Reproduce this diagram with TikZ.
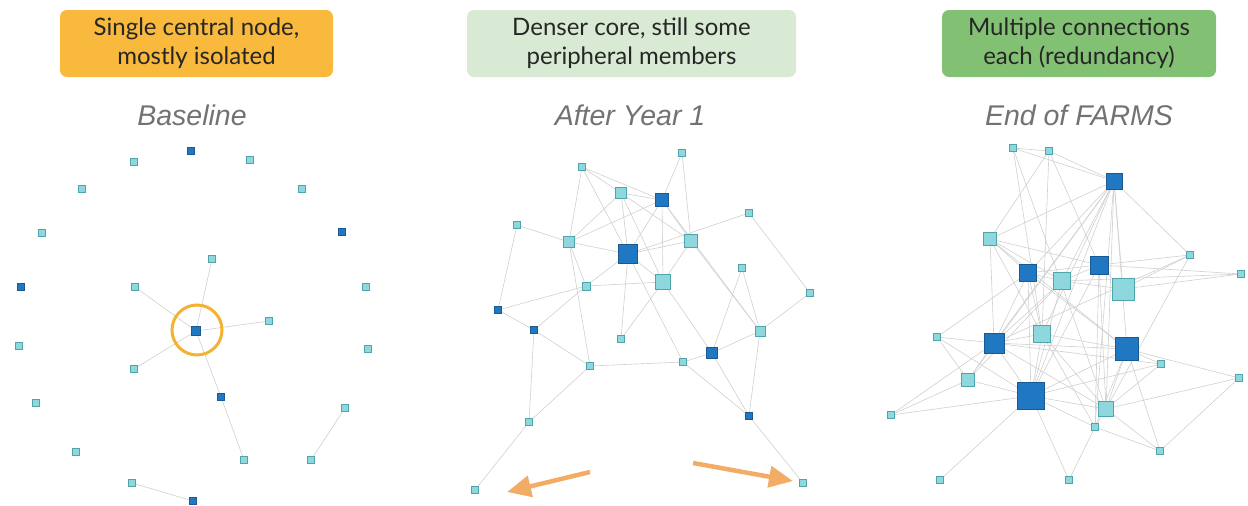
\documentclass[tikz,border=0pt]{standalone}
\usepackage{fontspec}
\setmainfont{Lato}
\newfontfamily\titlefont{Liberation Sans}
\usetikzlibrary{arrows.meta,backgrounds}
\definecolor{ltfill}{HTML}{8ED8DD}
\definecolor{ltdraw}{HTML}{4FA5AC}
\definecolor{dkfill}{HTML}{1F78C1}
\definecolor{dkdraw}{HTML}{1A5A90}
\definecolor{edgec}{HTML}{D0D0D0}
\definecolor{boxA}{HTML}{F8B93D}
\definecolor{boxB}{HTML}{D8EAD3}
\definecolor{boxC}{HTML}{82C174}
\definecolor{ringc}{HTML}{F4B233}
\definecolor{arrc}{HTML}{F2AC66}
\definecolor{titlec}{HTML}{727272}
\definecolor{hdrtext}{HTML}{262626}
\tikzset{
  nd/.style={rectangle,inner sep=0pt,line width=0.8pt},
  lt/.style={nd,fill=ltfill,draw=ltdraw},
  dk/.style={nd,fill=dkfill,draw=dkdraw},
  sz/.style={minimum size=#1},
  edge/.style={draw=edgec,line width=0.6pt},
  hdr/.style={rounded corners=7pt,minimum width=#1,minimum height=67pt,text=hdrtext,align=center,font=\fontsize{24}{29}\selectfont},
  ttl/.style={anchor=base,text=titlec,font=\titlefont\itshape\fontsize{28.5}{30}\selectfont},
  farrow/.style={draw=arrc,line width=4.5pt,-{Triangle[length=24pt,width=21pt]}}
}
\begin{document}
\begin{tikzpicture}[x=1pt,y=-1pt]
\useasboundingbox (0,0) rectangle (1248,506);
% headers
\node[hdr=273pt,fill=boxA] (h1) at (196.5,43.5) {Single central node,\\mostly isolated};
\node[hdr=329pt,fill=boxB] (h2) at (631.5,43.5) {Denser core, still some\\peripheral members};
\node[hdr=274pt,fill=boxC] (h3) at (1079,43.5) {Multiple connections\\each (redundancy)};
\node[ttl] (t1) at (192,125) {Baseline};
\node[ttl] (t2) at (630,125) {After Year 1};
\node[ttl] (t3) at (1079,125) {End of FARMS};
% ---------- panel 1
\node[dk,sz=7pt] (b1) at (191,151) {};
\node[lt,sz=7pt] (b2) at (134,162) {};
\node[lt,sz=7pt] (b3) at (250,160) {};
\node[lt,sz=7pt] (b4) at (82,189) {};
\node[lt,sz=7pt] (b5) at (302,189) {};
\node[lt,sz=7pt] (b6) at (42,233) {};
\node[dk,sz=7pt] (b7) at (342,232) {};
\node[dk,sz=7pt] (b8) at (21,287) {};
\node[lt,sz=7pt] (b9) at (135,287) {};
\node[lt,sz=7pt] (b10) at (212,259) {};
\node[lt,sz=7pt] (b11) at (366,287) {};
\node[dk,sz=9pt] (b0) at (196,331) {};
\node[lt,sz=7pt] (b12) at (269,321) {};
\node[lt,sz=7pt] (b13) at (19,346) {};
\node[lt,sz=7pt] (b14) at (368,349) {};
\node[lt,sz=7pt] (b15) at (134,369) {};
\node[dk,sz=7pt] (b16) at (221,397) {};
\node[lt,sz=7pt] (b17) at (36,403) {};
\node[lt,sz=7pt] (b18) at (345,408) {};
\node[lt,sz=7pt] (b19) at (76,452) {};
\node[lt,sz=7pt] (b20) at (244,460) {};
\node[lt,sz=7pt] (b21) at (311,460) {};
\node[lt,sz=7pt] (b22) at (132,483) {};
\node[dk,sz=7pt] (b23) at (193,501) {};
\node[circle,draw=ringc,line width=3pt,minimum size=50pt,inner sep=0pt] (ring) at (197,330) {};
\begin{scope}[on background layer]
\foreach \u/\v in {b0/b10,b0/b9,b0/b12,b0/b15,b0/b16,b16/b20,b18/b21,b22/b23}
  \draw[edge] (\u) -- (\v);
\end{scope}
% ---------- panel 2
\node[lt,sz=7pt] (cA) at (682,153) {};
\node[lt,sz=7pt] (cB) at (582,167) {};
\node[lt,sz=11pt] (cC) at (621,193) {};
\node[dk,sz=13pt] (cD) at (662,200) {};
\node[lt,sz=7pt] (cE) at (517,225) {};
\node[lt,sz=7pt] (cF) at (749,213) {};
\node[lt,sz=11pt] (cG) at (569,242) {};
\node[dk,sz=19pt] (cH) at (628,254) {};
\node[lt,sz=13pt] (cI) at (691,241) {};
\node[lt,sz=7pt] (cJ) at (742,268) {};
\node[lt,sz=15pt] (cK) at (663,282) {};
\node[lt,sz=8pt] (cL) at (586,286) {};
\node[lt,sz=7pt] (cM) at (810,293) {};
\node[dk,sz=7pt] (cN) at (498,310) {};
\node[dk,sz=7pt] (cO) at (534,330) {};
\node[lt,sz=10pt] (cP) at (760,331) {};
\node[lt,sz=7pt] (cQ) at (621,339) {};
\node[dk,sz=11pt] (cR) at (712,353) {};
\node[lt,sz=7pt] (cS) at (590,366) {};
\node[lt,sz=7pt] (cT) at (683,362) {};
\node[dk,sz=7pt] (cU) at (749,416) {};
\node[lt,sz=7pt] (cV) at (529,422) {};
\node[lt,sz=7pt] (cW) at (475,490) {};
\node[lt,sz=7pt] (cX) at (803,483) {};
\begin{scope}[on background layer]
\foreach \u/\v in {cA/cD,cA/cI,cB/cC,cB/cD,cB/cG,cB/cH,cC/cD,cC/cG,cC/cH,cC/cI,cC/cK,
  cD/cG,cD/cH,cD/cK,cD/cI,cD/cP,cE/cG,cE/cN,cF/cM,cF/cH,cG/cH,cG/cL,cG/cS,
  cH/cI,cH/cK,cH/cL,cH/cQ,cH/cT,cI/cK,cI/cP,cJ/cR,cJ/cP,cK/cL,cK/cQ,cK/cR,
  cL/cN,cL/cO,cM/cP,cN/cO,cO/cS,cO/cV,cP/cR,cP/cU,cS/cT,cT/cR,cR/cU,cT/cU,
  cS/cV,cV/cW,cU/cX}
  \draw[edge] (\u) -- (\v);
\end{scope}
\coordinate (la1) at (590,472);
\coordinate (la2) at (507,492);
\coordinate (ra1) at (693,463);
\coordinate (ra2) at (793,481);
\draw[farrow] (la1) -- (la2);
\draw[farrow] (ra1) -- (ra2);
% ---------- panel 3
\node[lt,sz=7pt] (da) at (1013,148) {};
\node[lt,sz=7pt] (db) at (1049,151) {};
\node[dk,sz=16pt] (dc) at (1114,181) {};
\node[lt,sz=13pt] (dd) at (990,239) {};
\node[lt,sz=7pt] (de) at (1190,255) {};
\node[dk,sz=17pt] (df) at (1028,273) {};
\node[dk,sz=18pt] (dg) at (1099,265) {};
\node[lt,sz=17pt] (dh) at (1062,281) {};
\node[lt,sz=7pt] (di) at (1241,274) {};
\node[lt,sz=22pt] (dj) at (1123,289) {};
\node[lt,sz=7pt] (dk) at (937,337) {};
\node[dk,sz=20pt] (dl) at (994,343) {};
\node[lt,sz=17pt] (dm) at (1042,334) {};
\node[dk,sz=23pt] (dn) at (1127,349) {};
\node[lt,sz=7pt] (do) at (1161,364) {};
\node[lt,sz=13pt] (dp) at (968,380) {};
\node[lt,sz=7pt] (dq) at (1239,378) {};
\node[dk,sz=27pt] (dr) at (1031,396) {};
\node[lt,sz=15pt] (ds) at (1106,409) {};
\node[lt,sz=7pt] (dt) at (891,415) {};
\node[lt,sz=7pt] (du) at (1095,427) {};
\node[lt,sz=7pt] (dv) at (1160,451) {};
\node[lt,sz=7pt] (dw) at (940,480) {};
\node[lt,sz=7pt] (dx) at (1069,480) {};
\begin{scope}[on background layer]
\foreach \u/\v in {da/db,da/dc,da/dm,da/ds,db/dc,db/dg,db/dm,db/dd,
  dc/dd,dc/de,dc/dn,dc/dl,dc/dr,dc/dp,dc/ds,dc/dm,dc/df,dc/dh,dc/du,dc/dj,
  dd/df,dd/dg,dd/dl,dd/dh,dd/dn,dd/dm,de/dg,de/dj,de/ds,de/dl,
  df/dg,df/dh,df/dn,df/dm,df/dl,df/dk,df/dr,dg/dh,dg/dj,dg/dr,dg/ds,dg/du,dg/di,
  dh/di,dh/dl,dh/dr,dh/dj,dh/dp,di/dj,dk/dl,dk/dr,dk/dp,
  dl/dm,dl/dn,dl/dp,dl/dr,dl/ds,dl/dt,dm/dn,dm/dr,dm/ds,dm/du,
  dn/do,dn/dr,dn/ds,dn/du,dn/dv,dn/dq,do/dr,do/dl,dp/dr,dp/dt,dq/ds,dq/dv,
  dr/ds,dr/du,dr/dw,dr/dx,dr/dt,ds/du,ds/dv,ds/do,du/dx,du/dv}
  \draw[edge] (\u) -- (\v);
\end{scope}
\end{tikzpicture}
\end{document}
